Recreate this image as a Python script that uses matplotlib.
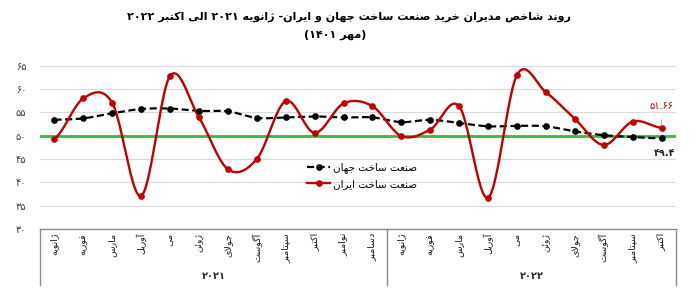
import re
import numpy as np
import matplotlib
matplotlib.use('Agg')
import matplotlib.pyplot as plt
import matplotlib.transforms as mtransforms
from matplotlib.lines import Line2D

# data
months = ['ژانویه', 'فوریه', 'مارس', 'آوریل', 'می', 'ژوئن', 'جولای', 'آگوست',
          'سپتامبر', 'اکتبر', 'نوامبر', 'دسامبر',
          'ژانویه', 'فوریه', 'مارس', 'آوریل', 'می', 'ژوئن', 'جولای', 'آگوست',
          'سپتامبر', 'اکتبر']
years = ['۲۰۲۱', '۲۰۲۲']
year_sizes = [12, 10]
world = [53.4, 53.7, 54.8, 55.7, 55.8, 55.3, 55.2, 53.8, 53.9, 54.1, 53.9, 53.9,
         52.9, 53.4, 52.7, 52.0, 52.1, 52.0, 50.9, 50.1, 49.7, 49.4]
iran = [49.3, 58.0, 57.0, 37.1, 62.8, 53.9, 42.8, 45.0, 57.4, 50.6, 56.9, 56.3,
        49.9, 51.3, 56.3, 36.7, 63.0, 59.3, 53.6, 48.0, 53.0, 51.66]
yticks = [30, 35, 40, 45, 50, 55, 60, 65]
ytick_labels = ['۳۰', '۳۵', '۴۰', '۴۵', '۵۰', '۵۵', '۶۰', '۶۵']
title1 = 'روند شاخص مدیران خرید صنعت ساخت جهان و ایران- ژانویه ۲۰۲۱ الی اکتبر ۲۰۲۲'
title2 = '(مهر ۱۴۰۱)'
name_world = 'صنعت ساخت جهان'
name_iran = 'صنعت ساخت ایران'
last_iran_label = '۵۱.۶۶'
last_world_label = '۴۹.۴'


# --- minimal Persian shaping (matplotlib has no text shaping) ---
def f4(b):
    return tuple(chr(b + i) for i in range(4))


def f2(b):
    return (chr(b), chr(b + 1), None, None)


FORMS = {'ا': f2(0xFE8D), 'آ': f2(0xFE81), 'ب': f4(0xFE8F), 'پ': f4(0xFB56),
         'ت': f4(0xFE95), 'ث': f4(0xFE99), 'ج': f4(0xFE9D), 'چ': f4(0xFB7A),
         'ح': f4(0xFEA1), 'خ': f4(0xFEA5), 'د': f2(0xFEA9), 'ذ': f2(0xFEAB),
         'ر': f2(0xFEAD), 'ز': f2(0xFEAF), 'ژ': f2(0xFB8A), 'س': f4(0xFEB1),
         'ش': f4(0xFEB5), 'ص': f4(0xFEB9), 'ض': f4(0xFEBD), 'ط': f4(0xFEC1),
         'ظ': f4(0xFEC5), 'ع': f4(0xFEC9), 'غ': f4(0xFECD), 'ف': f4(0xFED1),
         'ق': f4(0xFED5), 'ک': f4(0xFB8E), 'گ': f4(0xFB92), 'ل': f4(0xFEDD),
         'م': f4(0xFEE1), 'ن': f4(0xFEE5), 'و': f2(0xFEED), 'ه': f4(0xFEE9),
         'ی': f4(0xFBFC), 'ئ': f4(0xFE89)}


def dual(c):
    return c in FORMS and FORMS[c][2] is not None


def fa(text):
    out = []
    i = 0
    n = len(text)
    while i < n:
        c = text[i]
        prev = text[i - 1] if i > 0 else ''
        joins_prev = dual(prev) and c in FORMS
        if c == 'ل' and i + 1 < n and text[i + 1] in 'اآ':
            if text[i + 1] == 'ا':
                out.append('\uFEFC' if joins_prev else '\uFEFB')
            else:
                out.append('\uFEF6' if joins_prev else '\uFEF5')
            i += 2
            continue
        if c not in FORMS:
            out.append(c)
            i += 1
            continue
        nxt = text[i + 1] if i + 1 < n else ''
        joins_next = dual(c) and nxt in FORMS
        iso, fin, ini, med = FORMS[c]
        if joins_prev and joins_next:
            g = med
        elif joins_prev:
            g = fin
        elif joins_next:
            g = ini
        else:
            g = iso
        out.append(g)
        i += 1
    s = ''.join(out)[::-1]
    s = re.sub(r'[0-9۰-۹.]+', lambda m: m.group(0)[::-1], s)
    s = s.translate(str.maketrans('()', ')('))
    return s


def smooth(y, n=24):
    y = np.asarray(y, float)
    p = np.concatenate([[y[0]], y, [y[-1]]])
    t = np.linspace(0, 1, n, endpoint=False)
    xs, ys = [], []
    for i in range(len(y) - 1):
        p0, p1, p2, p3 = p[i:i + 4]
        ys.append(0.5 * (2 * p1 + (-p0 + p2) * t + (2 * p0 - 5 * p1 + 4 * p2 - p3) * t ** 2
                         + (-p0 + 3 * p1 - 3 * p2 + p3) * t ** 3))
        xs.append(i + t)
    xs.append([len(y) - 1])
    ys.append([y[-1]])
    return np.concatenate(xs), np.concatenate(ys)


plt.rcParams['font.family'] = ['DejaVu Sans']

RED = '#C00000'
GREEN = '#3DB54A'

fig = plt.figure(figsize=(7, 3.06), dpi=100)
ax = fig.add_axes([40 / 700, 1 - 229 / 306, 636 / 700, 163.4 / 306])

x = np.arange(len(months))

for v in yticks[1:]:
    ax.axhline(v, color='#d9d9d9', lw=0.8, zorder=0)

ax.axhline(50, color=GREEN, lw=2.0, zorder=1)

sx, sy = smooth(world)
ax.plot(sx, sy, color='black', lw=1.6, ls=(0, (3.2, 1.6)), zorder=3)
ax.plot(x, world, 'o', color='black', ms=3.8, zorder=4)

sx, sy = smooth(iran)
ax.plot(sx, sy, color=RED, lw=1.7, zorder=3)
ax.plot(x, iran, 'o', color=RED, ms=3.8, zorder=4)

ax.set_xlim(-0.5, len(months) - 0.5)
ax.set_ylim(30, 65)
ax.set_yticks(yticks)
ax.set_yticklabels(ytick_labels, fontsize=7, color='#404040')
ax.tick_params(axis='y', length=0, pad=10)
ax.set_xticks([])
for s in ['top', 'left', 'right']:
    ax.spines[s].set_visible(False)
ax.spines['bottom'].set_color('#8c8c8c')
ax.spines['bottom'].set_linewidth(1.0)

trans = mtransforms.blended_transform_factory(ax.transData, ax.transAxes)
for i, m in enumerate(months):
    ax.text(i, -0.025, fa(m), rotation=90, ha='center', va='top',
            fontsize=6.8, color='#1a1a1a', transform=trans)

start = 0
edges = [-0.5]
for yl, size in zip(years, year_sizes):
    centre = start + (size - 1) / 2
    ax.text(centre, -0.285, yl, ha='center', va='center', fontsize=7,
            fontweight='bold', color='#262626', transform=trans)
    start += size
    edges.append(start - 0.5)
for e in edges:
    ax.plot([e, e], [0, -0.34], color='#8c8c8c', lw=1.0, clip_on=False,
            transform=trans)

# last point labels
ax.annotate(last_iran_label, xy=(21, iran[-1]), xytext=(21.0, 56.3),
            ha='center', va='center', fontsize=7, color=RED,
            arrowprops=dict(arrowstyle='-', color='#a6a6a6', lw=0.6,
                            shrinkA=4, shrinkB=2))
ax.annotate(last_world_label, xy=(21, world[-1]), xytext=(21.1, 46.2),
            ha='center', va='center', fontsize=7, color='#262626',
            fontweight='bold',
            arrowprops=dict(arrowstyle='-', color='#a6a6a6', lw=0.6,
                            shrinkA=4, shrinkB=2))

handles = [Line2D([], [], color='black', lw=1.6, ls=(0, (3.2, 1.6)),
                  marker='o', ms=3.8),
           Line2D([], [], color=RED, lw=1.7, marker='o', ms=3.8)]
fig.legend(handles, [fa(name_world), fa(name_iran)], loc='upper left',
           bbox_to_anchor=(298 / 700, 1 - 153 / 306), frameon=False,
           fontsize=7.5, handlelength=2.2, handletextpad=0.3,
           labelspacing=0.55, markerfirst=True)

fig.text(349 / 700, 1 - 17 / 306, fa(title1), ha='center', va='center',
         fontsize=8, fontweight='bold')
fig.text(335 / 700, 1 - 35 / 306, fa(title2), ha='center', va='center',
         fontsize=8, fontweight='bold')

fig.savefig('out.png', dpi=100)
